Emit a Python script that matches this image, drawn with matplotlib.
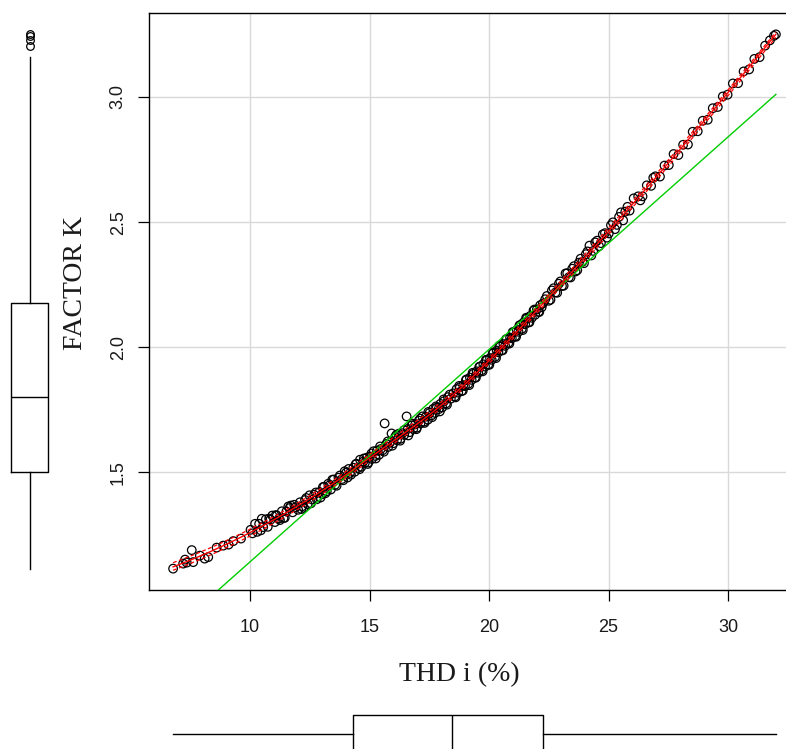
import numpy as np
import matplotlib
matplotlib.use("Agg")
import matplotlib.pyplot as plt

# ---------------- data ----------------
# distinct (THD, K) points; n_obs = how many overlapping observations each circle stands for
thd = [
    6.78, 7.20, 7.28, 7.35, 7.56, 7.62, 7.90, 8.10, 8.25, 8.60, 8.88, 9.10, 9.30, 9.62,
    10.02, 10.10, 10.21, 10.30, 10.38, 10.49, 10.55, 10.66, 10.74, 10.85, 10.93, 11.04,
    11.12, 11.21, 11.33, 11.40, 11.52, 11.60, 11.71, 11.78, 11.90,
    12.01, 12.09, 12.18, 12.30, 12.41, 12.49, 12.60, 12.68, 12.79, 12.90,
    13.02, 13.10, 13.21, 13.33, 13.44, 13.56, 13.70, 13.85, 14.02, 14.18,
    14.32, 14.38, 14.45, 14.52, 14.60, 14.66, 14.74, 14.80, 14.88, 14.95, 15.02, 15.10,
    15.17, 15.24, 15.31, 15.40, 15.47, 15.55, 15.63, 15.70, 15.78, 15.85, 15.92, 16.00,
    16.07, 16.15, 16.22, 16.30, 16.37, 16.45, 16.55, 16.60, 16.68, 16.76, 16.83, 16.91,
    16.98, 17.06, 17.13, 17.21, 17.28, 17.36, 17.44, 17.51, 17.59, 17.66, 17.74, 17.81,
    17.89, 17.96, 18.04, 18.12, 18.20, 18.28, 18.40,
    18.50, 18.57, 18.64, 18.71, 18.78, 18.85, 18.92, 18.99, 19.06, 19.13, 19.20, 19.27,
    19.34, 19.41, 19.48, 19.55, 19.62, 19.69, 19.76, 19.83, 19.90, 19.97, 20.04, 20.11,
    20.18, 20.25, 20.32, 20.39, 20.46, 20.53, 20.60, 20.67, 20.74, 20.81, 20.88, 20.95,
    21.02, 21.09, 21.16, 21.23, 21.30, 21.37, 21.44, 21.51, 21.58, 21.65, 21.72, 21.79,
    21.86, 21.93, 22.00, 22.07, 22.14, 22.20, 22.25,
    22.35, 22.50, 22.63, 22.78, 22.92, 23.05, 23.20, 23.34, 23.48, 23.62, 23.76, 23.90,
    24.05, 24.20, 24.36, 24.52, 24.68, 24.85, 25.01, 25.18, 25.35, 25.52, 25.70, 25.88,
    26.05, 26.24, 26.42, 26.60, 26.78, 26.96, 27.15, 27.34, 27.52, 27.72, 27.92, 28.12,
    28.32, 28.52, 28.73, 28.94, 29.15, 29.36, 29.57, 29.78, 29.98,
    30.20, 30.42, 30.65, 30.88, 31.10, 31.32, 31.55, 31.75, 31.92, 32.00,
    # second row of circles in the band
    11.08, 11.45, 11.85, 12.15, 12.35, 12.55, 12.75, 12.95, 13.05, 13.15, 13.27, 13.38,
    13.50, 13.62, 13.76, 13.90, 13.96, 14.08, 14.12, 14.22, 10.45, 10.80, 11.25, 11.65, 12.25,
    14.42, 14.58, 14.76, 14.92, 15.08, 15.26, 15.44, 15.60, 15.76, 15.95, 16.12, 16.28,
    16.44, 16.62, 16.80, 16.96, 17.12, 17.30, 17.46, 17.62, 17.78, 17.94, 18.10, 18.24, 18.35,
    18.60, 18.75, 18.90, 19.03, 19.17, 19.31, 19.45, 19.59, 19.73, 19.87, 20.01, 20.15,
    20.29, 20.43, 20.57, 20.71, 20.85, 20.99, 21.13, 21.27, 21.41, 21.55, 21.69, 21.90, 22.10,
    22.42, 22.57, 22.70, 22.85, 22.98, 23.12, 23.27, 23.41, 23.55, 23.69, 23.83, 23.97,
    24.12, 24.28, 24.44, 24.60, 24.76, 24.93, 25.10, 25.27, 25.44, 25.61, 25.79, 26.33, 26.87,
]
factor_k = [
    1.116, 1.136, 1.152, 1.140, 1.190, 1.142, 1.168, 1.156, 1.162, 1.200, 1.208, 1.212, 1.226, 1.236,
    1.271, 1.257, 1.295, 1.263, 1.295, 1.315, 1.282, 1.313, 1.283, 1.311, 1.328, 1.302,
    1.328, 1.316, 1.345, 1.318, 1.344, 1.364, 1.368, 1.341, 1.361,
    1.351, 1.381, 1.365, 1.390, 1.373, 1.409, 1.392, 1.411, 1.393, 1.422,
    1.413, 1.443, 1.425, 1.449, 1.471, 1.451, 1.479, 1.474, 1.499, 1.498,
    1.519, 1.503, 1.535, 1.518, 1.551, 1.523, 1.544, 1.538, 1.559, 1.540, 1.564, 1.554,
    1.585, 1.566, 1.587, 1.571, 1.594, 1.589, 1.696, 1.614, 1.602, 1.619, 1.656, 1.617,
    1.642, 1.629, 1.655, 1.635, 1.657, 1.650, 1.724, 1.674, 1.661, 1.688, 1.674, 1.692,
    1.679, 1.707, 1.696, 1.724, 1.703, 1.723, 1.711, 1.738, 1.728, 1.754, 1.738, 1.759,
    1.753, 1.774, 1.760, 1.785, 1.776, 1.801, 1.795,
    1.816, 1.804, 1.833, 1.819, 1.841, 1.825, 1.849, 1.845, 1.872, 1.854, 1.879, 1.870,
    1.894, 1.879, 1.904, 1.898, 1.923, 1.908, 1.932, 1.923, 1.948, 1.932, 1.957, 1.950,
    1.979, 1.962, 1.987, 1.980, 2.003, 1.988, 2.013, 2.006, 2.033, 2.018, 2.039, 2.036,
    2.059, 2.044, 2.069, 2.062, 2.089, 2.074, 2.099, 2.092, 2.115, 2.100, 2.125, 2.118,
    2.147, 2.130, 2.151, 2.142, 2.168, 2.160, 2.175,
    2.192, 2.186, 2.227, 2.219, 2.254, 2.245, 2.295, 2.280, 2.314, 2.303, 2.338, 2.341,
    2.372, 2.406, 2.385, 2.426, 2.416, 2.456, 2.455, 2.499, 2.489, 2.539, 2.542, 2.546,
    2.595, 2.603, 2.603, 2.647, 2.645, 2.683, 2.682, 2.726, 2.728, 2.772, 2.768, 2.809,
    2.810, 2.861, 2.863, 2.905, 2.909, 2.955, 2.960, 3.002, 3.009,
    3.054, 3.055, 3.102, 3.110, 3.152, 3.159, 3.205, 3.226, 3.244, 3.250,
    # second row of circles in the band
    1.330, 1.319, 1.371, 1.354, 1.398, 1.377, 1.420, 1.400, 1.442, 1.417, 1.455, 1.432,
    1.472, 1.447, 1.488, 1.469, 1.505, 1.480, 1.514, 1.491, 1.269, 1.316, 1.310, 1.358, 1.359,
    1.533, 1.513, 1.556, 1.534, 1.576, 1.556, 1.604, 1.583, 1.624, 1.607, 1.650, 1.627,
    1.669, 1.648, 1.695, 1.673, 1.715, 1.698, 1.742, 1.721, 1.764, 1.744, 1.792, 1.771, 1.811,
    1.800, 1.846, 1.827, 1.869, 1.849, 1.898, 1.879, 1.922, 1.904, 1.950, 1.930, 1.975,
    1.957, 2.006, 1.988, 2.032, 2.015, 2.061, 2.042, 2.087, 2.069, 2.118, 2.100, 2.151, 2.141,
    2.205, 2.190, 2.236, 2.218, 2.263, 2.246, 2.296, 2.279, 2.324, 2.308, 2.354, 2.336,
    2.383, 2.367, 2.419, 2.404, 2.451, 2.438, 2.488, 2.472, 2.521, 2.507, 2.561, 2.587, 2.677,
]
n_obs = [
    1, 1, 1, 1, 1, 1, 1, 1, 1, 1, 1, 1, 1, 1,
    1, 1, 1, 1, 1, 1, 1, 1, 1, 1, 1, 1,
    1, 1, 1, 1, 1, 1, 1, 1, 1,
    3, 3, 3, 3, 3, 3, 3, 3, 3, 3,
    18, 18, 18, 18, 18, 18, 18, 18, 18, 18,
    6, 6, 6, 6, 6, 6, 6, 6, 5, 5, 5, 5,
    5, 5, 5, 5, 5, 5, 1, 5, 5, 5, 1, 5,
    5, 5, 5, 5, 4, 4, 1, 4, 4, 4, 4, 4,
    4, 4, 4, 4, 4, 4, 4, 4, 4, 4, 4, 4,
    4, 4, 4, 4, 4, 4, 4,
    5, 5, 5, 5, 5, 5, 5, 5, 5, 5, 5, 5,
    5, 5, 5, 5, 5, 5, 5, 5, 5, 5, 5, 5,
    5, 4, 4, 4, 4, 4, 4, 4, 4, 4, 4, 4,
    4, 4, 4, 4, 4, 4, 4, 4, 4, 4, 4, 4,
    4, 4, 4, 4, 4, 4, 4,
    16, 16, 16, 16, 15, 15, 15, 15, 15, 15, 15, 15,
    3, 3, 3, 3, 3, 3, 2, 2, 2, 2, 2, 2,
    1, 1, 1, 1, 1, 1, 1, 1, 1, 1, 1, 1,
    1, 1, 1, 1, 1, 1, 1, 1, 1,
    1, 1, 1, 1, 1, 1, 1, 1, 1, 1,
    # second row of circles in the band
    1, 1, 1, 1, 1, 1, 1, 1, 1, 1, 1, 1,
    1, 1, 1, 1, 1, 1, 1, 1, 1, 1, 1, 1, 1,
    1, 1, 1, 1, 1, 1, 1, 1, 1, 1, 1, 1,
    1, 1, 1, 1, 1, 1, 1, 1, 1, 1, 1, 1, 1,
    1, 1, 1, 1, 1, 1, 1, 1, 1, 1, 1, 1,
    1, 1, 1, 1, 1, 1, 1, 1, 1, 1, 1, 1, 1,
    1, 1, 1, 1, 1, 1, 1, 1, 1, 1, 1, 1,
    1, 1, 1, 1, 1, 1, 1, 1, 1, 1, 1, 1, 1,
]
x_ticks = [10, 15, 20, 25, 30]
y_ticks = [1.5, 2.0, 2.5, 3.0]
x_label = "THD i (%)"
y_label = "FACTOR K"

x = np.asarray(thd)
y = np.asarray(factor_k)
xa = np.repeat(x, n_obs)   # all observations
ya = np.repeat(y, n_obs)


def local_fit(xd, yd, xs, span=0.5, degree=2):
    n = len(xd)
    k = max(int(np.ceil(span * n)), degree + 2)
    out = np.empty(len(xs))
    for i, x0 in enumerate(xs):
        d = np.abs(xd - x0)
        h = np.sort(d)[k - 1] * 1.0001 + 1e-9
        w = np.clip(1 - (d / h) ** 3, 0, None) ** 3
        A = np.vander(xd - x0, degree + 1)
        sw = np.sqrt(w)
        coef = np.linalg.lstsq(A * sw[:, None], yd * sw, rcond=None)[0]
        out[i] = coef[-1]
    return out


# ---------------- figure ----------------
W, H = 786, 749
fig = plt.figure(figsize=(W / 100, H / 100), dpi=100)

pad_x = 0.04 * (x.max() - x.min())
pad_y = 0.04 * (y.max() - y.min())
xlim = (x.min() - pad_x, x.max() + pad_x)
ylim = (y.min() - pad_y, y.max() + pad_y)

left_px, top_px, bottom_px = 149, 13, 590
xscale = 23.9
width_px = (xlim[1] - xlim[0]) * xscale
ax = fig.add_axes([left_px / W, (H - bottom_px) / H, width_px / W, (bottom_px - top_px) / H])
ax.set_xlim(xlim)
ax.set_ylim(ylim)

ax.set_xticks(x_ticks)
ax.set_yticks(y_ticks)
ax.set_xticklabels([str(t) for t in x_ticks])
ax.set_yticklabels(["%.1f" % t for t in y_ticks], rotation=90, va="center")
ax.grid(True, color="#d9d9d9", linewidth=1.0)
ax.set_axisbelow(True)
ax.tick_params(axis="both", direction="out", length=8, width=0.9, color="black",
               labelsize=13, labelcolor="#1a1a1a")
ax.tick_params(axis="x", pad=13)
ax.tick_params(axis="y", pad=8)
for lab in ax.get_xticklabels() + ax.get_yticklabels():
    lab.set_fontfamily("Liberation Sans")
for s in ax.spines.values():
    s.set_linewidth(1.0)
    s.set_color("black")

# points
ax.scatter(x, y, s=38, facecolors="none", edgecolors="black", linewidths=0.9, zorder=3)

# least-squares line (green)
b1, b0 = np.polyfit(xa, ya, 1)
xr = np.array([x.min(), x.max()])
ax.plot(xr, b0 + b1 * xr, color="#00cd00", linewidth=1.0, zorder=4)

# smoother with spread (red)
xs = np.linspace(x.min(), x.max(), 120)
fit_s = local_fit(xa, ya, xs)
fit_d = local_fit(xa, ya, xa)
res = ya - fit_d
pos = res > 0
neg = ~pos
up = np.sqrt(np.clip(local_fit(xa[pos], res[pos] ** 2, xs, degree=1), 0, None))
lo = np.sqrt(np.clip(local_fit(xa[neg], res[neg] ** 2, xs, degree=1), 0, None))
ax.plot(xs, fit_s, color="red", linewidth=1.0, zorder=5)
ax.plot(xs, fit_s + up, color="red", linewidth=0.9, linestyle=(0, (3, 2)), zorder=5)
ax.plot(xs, fit_s - lo, color="red", linewidth=0.9, linestyle=(0, (3, 2)), zorder=5)

# axis titles
fig.text(459 / W, 1 - 675 / H, x_label, ha="center", va="center",
         fontsize=20, family="Liberation Serif", color="#1a1a1a")
fig.text(76 / W, 1 - 283 / H, y_label, ha="center", va="center", rotation=90,
         fontsize=20, family="Liberation Serif", color="#1a1a1a")

box_kw = dict(showcaps=False,
              boxprops=dict(color="black", linewidth=1.0),
              whiskerprops=dict(color="black", linewidth=1.0),
              medianprops=dict(color="black", linewidth=1.0),
              flierprops=dict(marker="o", markerfacecolor="none", markeredgecolor="black",
                              markersize=5.5, markeredgewidth=0.9))

# left marginal boxplot
axl = fig.add_axes([0, (H - bottom_px) / H, 59 / W, (bottom_px - top_px) / H])
axl.boxplot(ya, positions=[0.5], widths=0.64, **box_kw)
axl.set_xlim(0, 1)
axl.set_ylim(ylim)
axl.axis("off")

# bottom marginal boxplot
axb = fig.add_axes([left_px / W, (H - 772) / H, width_px / W, 76 / H])
axb.boxplot(xa, positions=[0.5], widths=0.5, orientation="horizontal", **box_kw)
axb.set_xlim(xlim)
axb.set_ylim(0, 1)
axb.axis("off")

fig.savefig("out.png", dpi=100)
